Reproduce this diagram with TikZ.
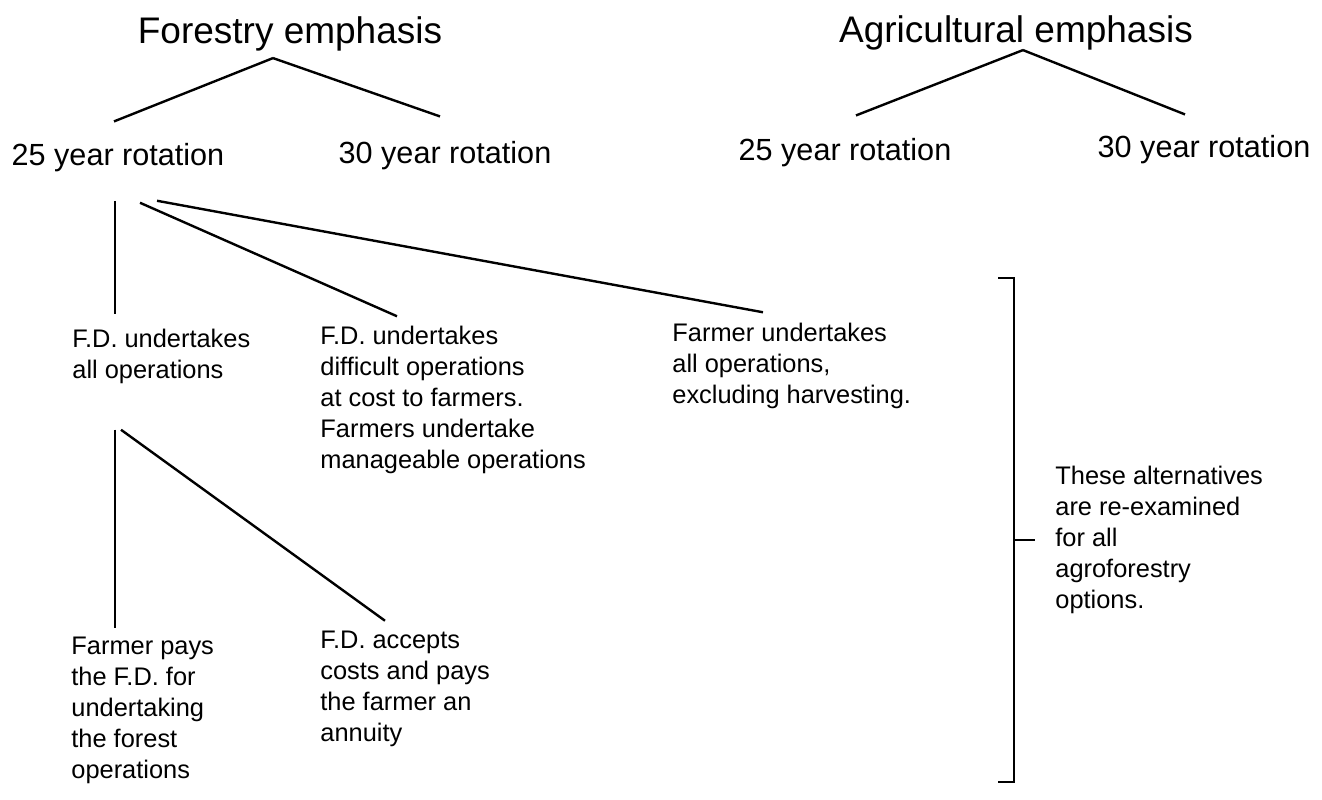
\documentclass[tikz,border=0pt]{standalone}
\usepackage{fontspec}
\setmainfont{Liberation Sans}
\begin{document}
\begin{tikzpicture}[x=0.5pt,y=-0.5pt]
	\tikzstyle{heading}=[inner sep=0pt,anchor=base,font=\fontsize{18.5}{22}\selectfont]
	\tikzstyle{rotation}=[inner sep=0pt,anchor=base,font=\fontsize{15.3}{18}\selectfont]
	\tikzstyle{choice}=[inner sep=0pt,anchor=west,align=left,font=\fontsize{12.7}{15.5}\selectfont]

	\tikzstyle{branch}=[-,black,line width=1.2pt]

	\useasboundingbox (0,0) rectangle (1322,799);

	\node[heading] (forestry) at (290,43) {Forestry emphasis};
	\node[heading] (agri) at (1016,42) {Agricultural emphasis};

	\node[rotation] (f25) at (118,165) {25 year rotation};
	\node[rotation] (f30) at (445,163) {30 year rotation};
	\node[rotation] (a25) at (845,160) {25 year rotation};
	\node[rotation] (a30) at (1204,157) {30 year rotation};

	\node[choice] (fdall) at (72,356) {F.D. undertakes\\all operations};
	\node[choice] (fdpart) at (320,400) {F.D. undertakes\\difficult operations\\at cost to farmers.\\Farmers undertake\\manageable operations};
	\node[choice] (farmer) at (672,366) {Farmer undertakes\\all operations,\\excluding harvesting.};

	\node[choice] (pays) at (71,710) {Farmer pays\\the F.D. for\\undertaking\\the forest\\operations};
	\node[choice] (annuity) at (320,689) {F.D. accepts\\costs and pays\\the farmer an\\annuity};

	\node[choice] (note) at (1055,540) {These alternatives\\are re-examined\\for all\\agroforestry\\options.};

	\draw[branch] ([xshift=-8.5pt,yshift=-3.5pt]forestry.south) -- ([xshift=-2pt,yshift=10.5pt]f25.north);
	\draw[branch] ([xshift=-8.5pt,yshift=-3.5pt]forestry.south) -- ([xshift=-2.5pt,yshift=12pt]f30.north);
	\draw[branch] ([xshift=3.5pt]agri.south) -- ([xshift=5.5pt,yshift=11pt]a25.north);
	\draw[branch] ([xshift=3.5pt]agri.south) -- ([xshift=-9.5pt,yshift=10pt]a30.north);

	\coordinate (stem) at ([xshift=-1.5pt,yshift=-14.5pt]f25.south);
	\draw[branch] (stem) -- ([yshift=7pt]stem |- fdall.north);
	\draw[branch] ([xshift=11pt,yshift=-15.5pt]f25.south) -- ([xshift=38.5pt,yshift=4.75pt]fdpart.north west);
	\draw[branch] ([xshift=19.5pt,yshift=-14.5pt]f25.south) -- ([xshift=45.5pt,yshift=5.25pt]farmer.north west);

	\coordinate (fork) at ([xshift=21.5pt,yshift=-23pt]fdall.south west);
	\draw[branch] (fork) -- ([yshift=4pt]fork |- pays.north);
	\draw[branch] ([xshift=3pt]fork) -- ([xshift=32.5pt,yshift=5pt]annuity.north west);

	% bracket round the alternatives
	\coordinate (btop) at (1014,278);
	\coordinate (bbot) at (1014,782);
	\draw[branch] ([xshift=-8pt]btop) -- (btop) -- (bbot) -- ([xshift=-8pt]bbot);
	\draw[branch] (btop |- note.west) -- ([xshift=-10pt]note.west);
\end{tikzpicture}
\end{document}
